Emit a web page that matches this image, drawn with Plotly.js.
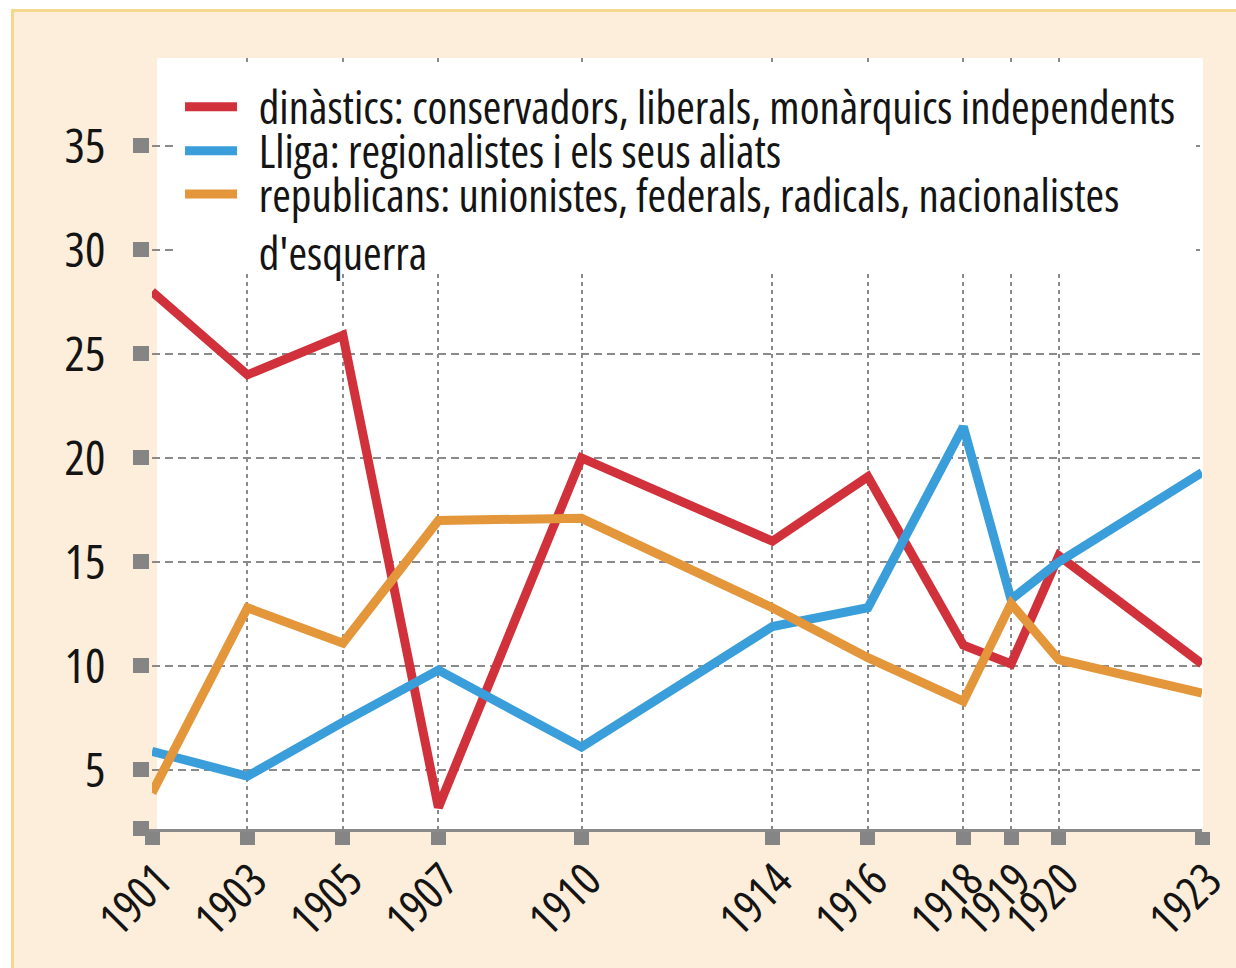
<!DOCTYPE html>
<html>
<head>
<meta charset="utf-8">
<script src="https://cdn.plot.ly/plotly-3.0.1.min.js"></script>
<style>
  html, body { margin: 0; padding: 0; background: #ffffff; }
  #frame { position: absolute; left: 11px; top: 9px; width: 1225px; height: 959px;
           border-left: 3px solid #F5D88E; border-top: 3px solid #F5D88E;
           background: #FCEEDA; box-sizing: border-box; }
  #chart { position: absolute; left: 0; top: 0; width: 1222px; height: 956px; }
  text, tspan { font-stretch: 86%; }
</style>
</head>
<body>
<div id="frame"><div id="chart"></div></div>
<script>
const years = [1901, 1903, 1905, 1907, 1910, 1914, 1916, 1918, 1919, 1920, 1923];
const yearLabels = ['1901', '1903', '1905', '1907', '1910', '1914', '1916', '1918', '1919', '1920', '1923'];
const dinastics = [28.0, 24.0, 25.9, 3.2, 20.0, 16.0, 19.1, 11.0, 10.1, 15.3, 10.1];
const lliga = [5.9, 4.7, 7.3, 9.8, 6.1, 11.9, 12.8, 21.5, 13.2, 15.0, 19.3];
const republicans = [3.9, 12.8, 11.1, 17.0, 17.1, 12.8, 10.4, 8.3, 13.0, 10.3, 8.7];
const seriesNames = [
  'dinàstics: conservadors, liberals, monàrquics independents',
  'Lliga: regionalistes i els seus aliats',
  'republicans: unionistes, federals, radicals, nacionalistes<br>d\'esquerra'
];
const yTickVals = [2.17, 5, 10, 15, 20, 25, 30, 35];
const yTickText = ['', '5', '10', '15', '20', '25', '30', '35'];

const colors = ['#D1313A', '#3A9EDA', '#E4963A'];
const font = 'Open Sans, sans-serif';
const legendIds = ['legend', 'legend2', 'legend3'];
const NB = '\u00a0\u00a0';

const traces = [dinastics, lliga, republicans].map((vals, i) => ({
  type: 'scatter', mode: 'lines', x: years, y: vals,
  name: NB + seriesNames[i].replace('<br>', '<br>' + NB),
  legend: legendIds[i],
  line: { color: colors[i], width: 9 }, cliponaxis: false, hoverinfo: 'skip'
}));

// legend rows (paper fractions)
const legendRowY = [0.9830, 0.9260, 0.8700];
function legendBox(y) {
  return {
    x: 0.0267, y: y, xanchor: 'left', yanchor: 'top',
    bgcolor: 'rgba(0,0,0,0)', borderwidth: 0,
    font: { family: font, size: 45, color: '#141414' },
    valign: 'top', itemwidth: 52
  };
}

const layout = {
  width: 1222, height: 956,
  margin: { l: 138, r: 34, t: 46, b: 139 },
  paper_bgcolor: '#FCEEDA',
  plot_bgcolor: 'rgba(0,0,0,0)',
  font: { family: font, color: '#141414', size: 44 },
  showlegend: true,
  legend: legendBox(legendRowY[0]),
  legend2: legendBox(legendRowY[1]),
  legend3: legendBox(legendRowY[2]),
  xaxis: {
    type: 'linear', range: [1901, 1923],
    tickmode: 'array', tickvals: years, ticktext: yearLabels,
    tickangle: -45, tickfont: { family: font, size: 46, color: '#141414' },
    ticklabelstandoff: -10, ticklabelshift: 6,
    showgrid: true, gridcolor: '#8a8a8a', gridwidth: 2, griddash: '4px,4px',
    showline: true, linecolor: '#8a8a8a', linewidth: 3,
    ticks: 'outside', ticklen: 13, tickwidth: 15, tickcolor: '#858585',
    zeroline: false, fixedrange: true
  },
  yaxis: {
    range: [2.163, 39.23],
    tickmode: 'array', tickvals: yTickVals, ticktext: yTickText,
    tickfont: { family: font, size: 48, color: '#141414' },
    showgrid: true, gridcolor: '#8a8a8a', gridwidth: 2, griddash: '8px,5px',
    showline: true, linecolor: '#FCEEDA', linewidth: 3,
    ticks: 'outside', ticklen: 16, tickwidth: 15, tickcolor: '#858585',
    ticklabelstandoff: 18,
    zeroline: false, fixedrange: true
  },
  shapes: [
    { type: 'rect', xref: 'paper', yref: 'paper', layer: 'below',
      x0: 5 / 1050, x1: 1 + 1 / 1050, y0: 0, y1: 1,
      fillcolor: '#ffffff', line: { width: 0 } },
    { type: 'rect', xref: 'paper', yref: 'paper', layer: 'above',
      x0: 21 / 1050, x1: 1044 / 1050, y0: 0.7211, y1: 0.9909,
      fillcolor: '#ffffff', line: { width: 0 } }
  ]
};

Plotly.newPlot('chart', traces, layout, { displayModeBar: false, staticPlot: true });
</script>
</body>
</html>
